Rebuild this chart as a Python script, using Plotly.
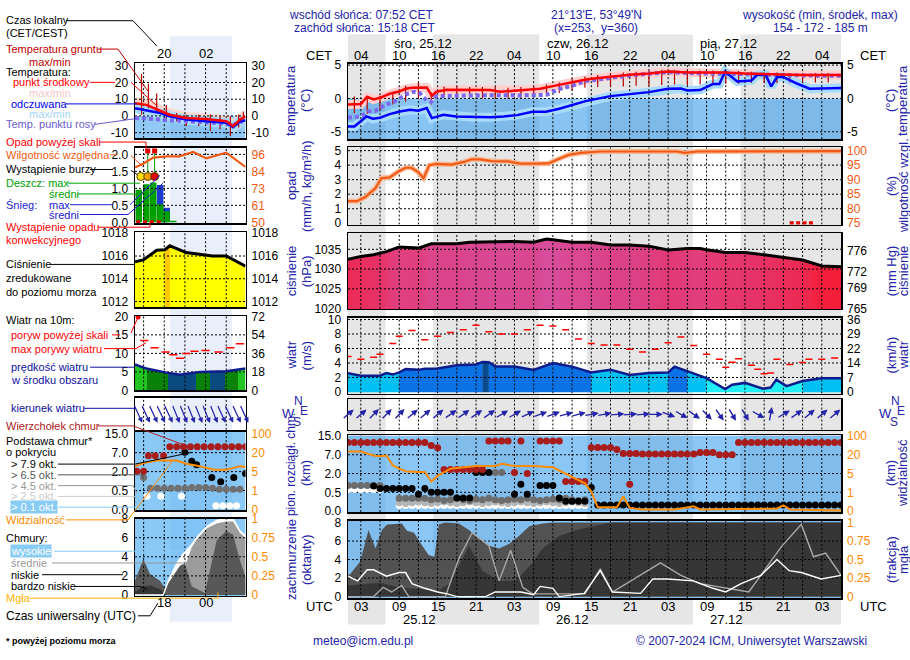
import numpy as np
import plotly.graph_objects as go

W, H = 910, 660
FONT = "Liberation Sans, Arial, Helvetica, sans-serif"
NAVY = "#2424a8"
ORANGE = "#ff8a00"
RH_COL = "#f05a14"

# ================= MAIN METEOGRAM DATA (t = hours since 25.12 00 UTC) =================
t_start, t_end = 1, 78
sunrise_t = [6.87, 30.87, 54.87]
sunset_t = [14.3, 38.3, 62.3]
hour_ticks = [3, 9, 15, 21, 27, 33, 39, 45, 51, 57, 63, 69, 75]
cet_labels = ["04", "10", "16", "22", "04", "10", "16", "22", "04", "10", "16", "22", "04"]
utc_labels = ["03", "09", "15", "21", "03", "09", "15", "21", "03", "09", "15", "21", "03"]
day_names = ["śro, 25.12", "czw, 26.12", "pią, 27.12"]
day_name_t = [7.8, 31.7, 55.7]
date_labels = ["25.12", "26.12", "27.12"]
date_t = [12.1, 36.1, 60.1]

# temperature (deg C)
temp_t = [1, 3, 4, 5, 6, 7.5, 9, 10, 11, 12, 13.3, 14.1, 14.8, 16.4, 18, 20.6, 23.2, 24.8, 27.4, 29,
          31, 33, 35.3, 37.4, 39, 42, 45, 48, 51, 54, 57, 60, 63, 66, 69, 72, 75, 78]
temp_mid = [-0.9, -0.85, 0.25, -0.15, 0.1, 0.7, 1.05, 1.45, 1.6, 1.65, 1.65, 0.4, 1.0, 1.3, 1.3, 1.2, 1.25, 1.0, 1.2, 1.3,
            1.45, 1.85, 2.35, 2.7, 2.95, 3.3, 3.55, 3.75, 4.05, 3.9, 3.9, 3.9, 3.75, 3.65, 3.55, 3.5, 3.5, 3.5]
feel_t = [1, 2, 3.9, 4.9, 6, 7.5, 9.1, 10.7, 12, 13.3, 14.1, 15.9, 17.9, 20.6, 23.2, 25.3, 27.4, 29.8, 31.9, 34,
          36, 38.1, 42, 45, 48, 51, 53, 54, 56, 58, 59, 59.9, 61.8, 64, 64.9, 66.2, 67.1, 68, 69, 71.2, 73.1, 78]
feel = [-4.2, -4.2, -2.7, -3.05, -2.9, -2.35, -1.95, -1.7, -1.85, -1.45, -2.95, -2.45, -2.7, -2.8, -2.8, -2.7, -2.5, -2.0, -2.0, -1.55,
        -1.0, -0.4, 0.35, 0.6, 0.95, 1.45, 1.5, 1.2, 1.25, 2.15, 2.15, 4.0, 2.55, 2.7, 3.5, 3.6, 1.8, 3.2, 3.2, 2.2, 1.45, 1.55]
dew_t = [1, 2, 3.2, 4.2, 5.2, 6, 7, 8.1, 9.1, 10.2, 11.2, 12.2, 13.3, 14, 14.8, 16.4, 20, 24, 28, 31,
         32, 34, 36, 38, 42, 45, 48, 51, 54, 57, 60, 63, 66, 69, 72, 75, 78]
dew = [-2.85, -2.85, -2.6, -1.95, -1.9, -1.4, -0.9, -0.55, 0.0, 0.65, 1.0, 0.8, -0.3, -0.5, 0.35, 0.4, 0.45, 0.5, 0.45, 0.5,
       0.55, 1.4, 1.9, 2.6, 3.15, 3.45, 3.7, 3.95, 3.8, 3.8, 3.8, 3.65, 3.55, 3.45, 3.4, 3.4, 3.4]
gt_t = [2, 4, 6, 8, 10, 12, 14, 16, 18, 20, 22, 24, 26, 28, 30, 32, 34, 36, 38, 40,
        42, 44, 46, 48, 50, 52, 54, 56, 58, 60, 62, 64, 66, 68, 70, 72, 74, 76]
g_max = [0.3, 0.2, 0.4, 1.0, 1.9, 2.4, 0.9, 1.8, 1.8, 1.7, 1.7, 1.7, 1.6, 1.7, 1.8, 2.1, 2.4, 2.9, 3.3, 3.5,
         3.7, 3.9, 4.0, 4.1, 4.3, 4.3, 4.2, 4.2, 4.2, 4.2, 4.1, 4.0, 3.9, 3.9, 3.8, 3.8, 3.8, 3.8]
g_min = [-2.2, -2.3, -1.7, -0.9, -0.5, 0.0, -0.9, 0.2, 0.1, 0.1, 0.0, 0.1, 0.0, 0.1, 0.2, 0.5, 0.8, 1.2, 1.6, 1.7,
         1.8, 1.8, 1.9, 1.9, 2.0, 2.1, 2.0, 2.1, 2.1, 2.2, 2.2, 2.3, 2.3, 2.3, 2.4, 2.4, 2.4, 2.4]

# precipitation / relative humidity
rh_t = [1, 2.4, 3.7, 5.3, 6.2, 7.5, 9, 10, 10.9, 11.9, 12.8, 13.7, 14.7, 17.2, 19.1, 20.3, 21.6, 23.5, 26, 27.9,
        30.4, 32.3, 33.8, 35.4, 37.3, 40.4, 46.7, 52.4, 53.6, 55.5, 78]
rh = [82.6, 82.6, 84.0, 87.1, 90.5, 90.8, 93.0, 94.1, 94.1, 92.7, 90.5, 95.0, 95.4, 95.2, 96.1, 97.0, 97.0, 96.4, 96.3, 95.5,
      95.5, 95.6, 97.0, 98.5, 99.2, 99.7, 99.7, 99.7, 99.2, 99.7, 99.8]
prec_flag_t = [70.3, 71.3, 72.3, 73.3]
prec_flag_v = [0.0, 0.0, 0.0, 0.0]

# pressure (hPa)
pres_t = [1, 3, 5, 7, 9, 12, 14, 18, 20, 24, 27, 30, 32, 33, 36, 39, 42, 45, 48, 51,
          54, 56, 57, 60, 63, 66, 69, 72, 75, 78]
pres = [1032.5, 1033.2, 1033.6, 1034.4, 1035.6, 1035.3, 1036.4, 1036.4, 1036.8, 1037.0, 1037.0, 1036.8, 1037.6, 1037.4, 1036.8,
        1036.8, 1036.1, 1036.1, 1035.8, 1034.8, 1035.2, 1035.2, 1034.9, 1034.2, 1034.2, 1033.6, 1033.0, 1032.3, 1030.8, 1030.6]

# wind (m/s)
wind_t = [1, 3, 6, 7, 8, 9, 10, 12, 13, 15, 18, 21, 22, 23, 24, 27, 30, 33, 36, 39, 42,
          45, 48, 51, 52, 54, 56, 57, 59.9, 61, 63, 65.8, 67, 67.9, 69.5, 72, 75, 78]
wind = [2.6, 2.25, 2.25, 2.6, 2.4, 2.7, 3.15, 3.05, 3.2, 3.25, 3.7, 3.8, 4.15, 4.1, 3.5, 3.5, 3.05, 4.0, 3.5, 2.7, 3.05,
        2.35, 2.6, 2.7, 3.5, 2.9, 2.25, 1.9, 0.4, 1.0, 1.25, 0.45, 0.6, 1.7, 0.8, 1.5, 1.9, 1.9]
gust_t = [1, 3, 5, 6, 8, 9, 11, 13, 15, 17, 19, 21, 23, 25, 27, 29, 31, 33, 35, 37,
          39, 41, 43, 45, 47, 49, 51, 53, 55, 57, 59, 60, 61, 62, 64, 65, 66, 67, 68, 70, 72, 73, 75, 77]
gust = [4.9, 4.5, 4.8, 5.2, 6.7, 7.7, 8.5, 7.2, 7.7, 8.2, 8.6, 9.2, 8.3, 8.0, 8.0, 8.6, 9.2, 9.1, 8.6, 7.3,
        6.7, 6.5, 6.5, 5.9, 5.5, 5.9, 6.8, 7.6, 6.4, 5.2, 4.5, 3.4, 4.1, 4.6, 3.7, 3.15, 2.5, 2.6, 4.5, 3.8,
        4.05, 4.5, 4.5, 4.7]
dir_t = [1, 3, 5, 7, 9, 11, 13, 15, 17, 19, 21, 23, 25, 27, 29, 31, 33, 35, 37, 39,
         41, 43, 45, 47, 49, 51, 53, 55, 57, 59, 61, 63, 65, 67, 69, 71, 73, 75, 77]
dir_from = [230, 230, 225, 225, 225, 230, 230, 230, 235, 235, 235, 235, 240, 240, 245, 250, 250, 255, 255, 260,
            260, 265, 265, 265, 270, 290, 300, 305, 315, 325, 330, 330, 300, 190, 240, 235, 230, 230, 230]

# clouds: base / top (km a.s.l.), visibility (km), cover (oktas), fog (fraction)
cb_scale_km = [0, 0.5, 2, 7, 15]
vis_scale_km = [0, 1, 5, 20, 100]
ct_t = [1, 2, 3, 4, 5, 6, 7, 8, 9, 10, 11, 12, 13, 14, 15, 16, 17, 18, 19, 20, 21, 22, 23, 24, 25, 26, 27, 28, 29,
        31, 32, 33, 34, 35, 36, 37, 38, 39, 40, 41, 42, 43, 44, 45, 46, 47, 48, 49, 50, 51, 52, 53, 54, 55,
        56, 57, 58, 59, 60, 61, 62, 63, 64, 65, 66, 67, 68, 69, 70, 71, 72, 73, 74, 75, 76, 77, 78, 45]
ct_km = [12.2, 12.2, 12.2, 12.2, 12.2, 12.2, 12.2, 12.2, 12.2, 12.2, 12.2, 12.2, 12.2, 11.0, 10.0,
         3.05, 3.05, 3.05, 3.05, 3.05, 3.05, 3.05, 12.9, 12.9, 12.9, 12.9, 2.25, 12.9, 2.0,
         12.9, 12.9, 12.9, 12.9, 1.36, 1.36, 1.36, 1.36, 10.1, 10.1, 10.1, 10.1, 9.2, 7.5, 7.5, 7.5,
         7.3, 7.3, 7.3, 7.3, 7.3, 7.3, 7.3, 7.3, 7.3, 8.0, 8.0, 8.0, 7.0, 7.0, 7.0,
         12.2, 12.2, 12.2, 12.2, 12.2, 12.2, 12.2, 12.2, 12.2, 12.2, 12.2, 12.2, 12.2, 12.2, 12.2, 12.2, 12.2, 1.15]
cbk_t = [5, 6, 7, 8, 9, 10, 11, 12, 13, 14, 15, 16, 17, 18, 19, 20, 21, 22, 23, 27, 28, 29,
         31, 32, 33, 34, 35, 36, 37, 38, 39, 40, 41, 42, 43, 44, 45, 46, 47, 48, 49, 50, 51, 52, 53, 54,
         55, 56, 57, 58, 59, 60, 61, 62, 63, 64, 65, 66, 67, 68, 69, 70, 71, 72, 73, 74, 75, 76, 77, 78]
cbk_km = [1.0, 0.8, 0.8, 0.8, 0.8, 0.8, 0.8, 0.45, 0.8, 0.5, 0.5, 0.5, 0.5, 0.35, 0.35, 0.35, 2.25, 2.25, 2.25,
          0.45, 1.15, 0.45, 1.04, 1.04, 1.04, 0.35, 0.26, 0.26, 0.26, 0.26, 0.88,
          0.16, 0.16, 0.16, 0.16, 0.16, 0.16, 0.16, 0.16, 0.16, 0.16, 0.16, 0.16, 0.16, 0.16, 0.16, 0.16,
          0.16, 0.16, 0.16, 0.16, 0.16, 0.16, 0.16, 0.16, 0.16, 0.16, 0.16, 0.16, 0.16, 0.16, 0.16, 0.16,
          0.16, 0.16, 0.16, 0.16, 0.16, 0.16, 0.16]
cbg_t = [1, 2, 3, 4, 5, 6, 9, 10, 11, 12, 13, 14, 15, 16, 17, 18, 19, 20, 21, 22, 23, 24, 25, 26, 27, 28, 29,
         30, 31, 32, 33, 34, 35, 36, 37, 38, 24, 25]
cbg_km = [1.05, 1.05, 1.05, 1.05, 1.05, 1.05, 0.34, 0.34, 0.34, 0.34, 0.34,
          0.3, 0.32, 0.28, 0.3, 0.34, 0.3, 0.28, 0.32, 0.3, 0.34, 0.3, 0.28, 0.3, 0.32, 0.3, 0.34, 0.3, 0.28, 0.3,
          0.32, 0.3, 0.34, 0.3, 0.28, 0.3, 2.25, 2.25]
cbl_t = [9, 10, 11, 12, 13, 14, 15, 16, 17, 18, 19, 20, 21, 22, 23, 24, 25, 26, 27, 28, 29, 30, 31, 32, 33,
         34, 35, 36, 37, 38]
cbl_km = [0.22, 0.2, 0.22, 0.24, 0.22, 0.2, 0.22, 0.24, 0.22, 0.2, 0.22, 0.24, 0.22, 0.2, 0.22,
          0.24, 0.22, 0.2, 0.22, 0.24, 0.22, 0.2, 0.22, 0.24, 0.22, 0.2, 0.22, 0.24, 0.22, 0.2]
cbw_t = [1, 2, 3, 4, 5, 6, 9, 10, 11, 12, 13, 14, 15, 16, 17, 18, 19, 20, 21, 22, 23, 24, 25, 26, 27, 28,
         29, 30, 31, 32, 33, 34, 35, 36, 37, 38]
cbw_km = [0.72, 0.72, 0.72, 0.72, 0.72, 0.72, 0.15, 0.15, 0.15, 0.15, 0.15, 0.15, 0.15, 0.15, 0.15, 0.15,
          0.15, 0.15, 0.15, 0.15, 0.15, 0.15, 0.15, 0.15, 0.15, 0.15, 0.15, 0.15, 0.15, 0.15, 0.15, 0.15,
          0.15, 0.15, 0.15, 0.15]
vis_t = [1, 3, 5, 6, 7, 8, 9, 10, 12, 13, 14, 15, 17, 19, 21, 24, 25, 27, 30, 33,
         35, 36, 38, 39, 40, 43, 44, 45, 47, 52, 55, 56, 60, 63, 68, 69, 70, 78]
vis_km = [33.6, 33.6, 19.4, 18.8, 19.4, 11.5, 8.9, 6.8, 6.3, 6.3, 3.3, 4.5, 8.9, 10.0, 11.0, 11.0, 12.8, 11.0, 11.0, 10.0,
          5.0, 4.3, 2.9, 1.17, 0.2, 0.2, 0.78, 0.17, 0.09, 0.09, 0.26, 0.09, 0.12, 0.14, 0.14, 0.31, 0.09, 0.03]
lc_t = [1, 1.3, 2.9, 4.2, 5.3, 6.3, 7.1, 9.4, 10.2, 11.3, 12.6, 13.6, 14.5, 15.2, 16.2, 18.3, 19.9, 21.5, 23.1, 24.6,
        26.2, 27.7, 29.3, 31.4, 33, 78]
lc = [2.4, 2.4, 3.8, 7.2, 5.2, 7.2, 7.8, 7.9, 7.1, 6.9, 5.5, 4.5, 4.3, 7.8, 8.0, 7.9, 7.2, 6.2, 5.5, 5.2,
      5.7, 6.55, 7.6, 7.9, 8.0, 8.0]
vl_t = [1, 6, 9, 12, 15, 17, 19.9, 22, 24.6, 27.2, 29.5, 31.4, 34, 36.6, 39.3, 42, 78]
vl = [1.2, 1.5, 1.0, 0.8, 0.6, 1.5, 5.5, 2.8, 1.7, 1.7, 3.4, 5.2, 6.55, 7.2, 7.6, 8.0, 8.0]
hc_t = [1, 2.5, 4, 5, 7, 9, 10, 11, 13, 15, 16.5, 18, 22.5, 24, 26, 28, 30, 31, 33, 34,
        37.9, 40.4, 42.3, 46.7, 48.6, 51, 54.9, 58, 60, 62.4, 65.5, 68, 69.9, 71.8, 74.9, 78]
hc = [2.2, 1.7, 2.9, 2.9, 2.2, 2.6, 2.6, 1.4, 0.9, 0.5, 0.3, 0.0, 0.0, 0.5, 0.5, 0.5, 0.2, 1.1, 0.9, 0.0,
      0.35, 2.8, 0.5, 0.35, 1.9, 1.9, 1.7, 0.9, 0.5, 1.4, 2.3, 4.0, 2.8, 2.6, 1.9, 2.3]
mc_t = [1, 5, 6.5, 7.8, 9.4, 10.5, 16.2, 18.3, 20.4, 23, 24.6, 26.4, 28.3, 29.8, 38, 40.4, 42.3, 49.8, 53, 56,
        63.6, 68.7, 71.8, 73.7, 75.6, 78]
mc = [0.0, 0.0, 1.0, 0.5, 1.2, 0.0, 0.0, 4.1, 6.9, 5.5, 1.7, 5.0, 1.0, 0.3, 0.3, 3.0, 0.5, 3.65, 2.3, 1.4,
      0.5, 5.4, 7.8, 4.3, 4.7, 2.3]
fog_t = [10, 11, 12, 13, 14, 15, 16, 17, 18, 19, 20, 21, 22, 23, 24, 25, 26, 27, 28, 29,
         30, 31, 32, 33, 34, 35, 36, 37, 38, 39, 40, 41, 42, 43, 44, 45, 46, 47, 48, 49,
         50, 51, 52, 53, 54, 55, 56, 57, 58, 59, 60, 61, 62, 63, 64, 65, 66, 67, 68, 69,
         70, 71, 72, 73, 74, 75, 76, 77, 78]
fog = [0.18, 0.15, 0.04, 0.12, 0.53, 0.42, 0.32, 0.15, 0.14, 0.11, 0.17, 0.26, 0.28, 0.22, 0.18, 0.22, 0.19, 0.15, 0.12, 0.06,
       0.02, 0.08, 0.06, 0.09, 0.13, 0.38, 0.45, 0.53, 0.65, 0.67, 0.7, 0.75, 0.74, 0.7, 0.74, 0.77, 0.8, 0.87, 0.87, 0.9,
       0.89, 0.89, 0.8, 0.73, 0.85, 0.87, 0.94, 0.87, 0.8, 0.77, 0.77, 0.8, 0.83, 0.9, 0.91, 0.94, 0.93, 0.94, 0.87, 0.9,
       0.78, 0.85, 0.94, 0.93, 0.94, 0.94, 0.96, 0.94, 0.94]

# ================= LEGEND MINI-METEOGRAM DATA (t = hours UTC, 24 = 00 UTC) =================
mini_range = [13.75, 29.8]
mini_grid_t = [15, 18, 21, 24, 27]
mini_lab_t = [18, 24, 30]
mini_cet = ["20", "02", "08"]
mini_utc = ["18", "00", "06"]
mini_temp_t = [13.75, 15.4, 17.4, 18.8, 21.2, 24.1, 27.0, 28.0, 29.0, 29.8]
mini_temp = [7.6, 6.6, 3.1, 0.7, -1.2, -1.8, -3.2, -6.1, -2.2, -0.2]
mini_feel = [4.6, 3.1, 1.7, -0.2, -2.2, -3.2, -4.1, -6.7, -3.2, -2.8]
mini_dew = [-1.2, -1.6, -2.2, -2.8, -3.2, -4.1, -4.7, -5.5, -3.6, -2.8]
mini_g_t = [14.7, 15.7, 16.9, 18.3, 19.8, 21.2, 23.0, 24.7, 26.1, 27.6, 28.8, 29.5]
mini_gmax = [25.1, 19.3, 13.4, 6.6, 1.7, 0.7, 0.7, 0.7, -0.2, -0.2, 0.7, 2.7]
mini_gmin = [0.7, 4.6, 2.7, -1.2, -3.2, -6.1, -6.1, -9.0, -8.0, -12.0, -7.0, -2.2]
mini_prec_t = [14.3, 15.4, 16.4, 17.4, 18.35, 19.3]
mini_rain = [0.96, 1.12, 1.17, 0.53, 0.33, 0.05]
mini_snow = [0.0, 0.0, 0.0, 1.1, 0.43, 0.0]
mini_storm_t = [14.6, 15.6, 16.6]
mini_storm_v = [1.35, 1.35, 1.35]
mini_over_t = [15.6, 16.6]
mini_over_v = [2.1, 2.1]
mini_conv_t = [14.2, 15.2, 16.2, 17.2]
mini_conv_v = [0.0, 0.0, 0.0, 0.0]
mini_rh_t = [13.75, 15.0, 16.4, 18.3, 20.2, 22.2, 24.1, 27.0, 29.8]
mini_rh = [87.2, 89.8, 93.8, 94.7, 94.7, 97.6, 93.3, 97.2, 87.5]
mini_pres_t = [13.75, 14.96, 16.9, 18.1, 18.8, 21.2, 25.0, 27.0, 29.8]
mini_pres = [1015.5, 1015.66, 1016.5, 1016.55, 1016.9, 1016.3, 1016.0, 1016.0, 1015.1]
mini_wind_t = [13.75, 15.4, 18.3, 20.3, 23.2, 27.0, 29.8]
mini_wind = [7.0, 5.9, 4.8, 4.2, 5.0, 5.2, 5.9]
mini_strip_t = [13.75, 15.44, 18.58, 22.68, 24.61, 26.8, 28.7, 29.8]
mini_strip_c = ["#22c422", "#0a820a", "#0a4a7e", "#0a820a", "#0a4a7e", "#0a820a", "#22c422"]
mini_gust_t = [15.1, 16.6, 18.2, 19.3, 20.3, 21.2, 22.4, 24.0, 25.9, 27.6, 29.0]
mini_gust = [13.5, 11.5, 10.4, 9.6, 8.7, 10.0, 10.6, 10.8, 10.4, 11.5, 12.6]
mini_gust_over_t = [14.2]
mini_gust_over_v = [19.8]
mini_dir_t = [14.2, 15.3, 16.4, 17.5, 18.6, 19.7, 20.8, 21.9, 23.0, 24.1, 25.2, 26.3, 27.4, 28.5, 29.6]
mini_dir_from = [335, 335, 335, 335, 335, 338, 338, 338, 338, 338, 338, 335, 335, 335, 335]
mini_top_t = [14.0, 15.0, 15.7, 16.7, 17.9, 18.8, 19.8, 20.8, 21.8, 22.8, 23.8, 24.8, 25.8, 26.8, 27.8, 28.8, 29.8]
mini_top = [2.1, 2.1, 6.2, 6.2, 6.2, 9.5, 9.5, 9.5, 9.5, 9.5, 9.5, 9.5, 9.5, 9.5, 9.5, 9.5, 9.5]
mini_b_t = [21.0, 22.0, 22.7, 24.9, 26.2, 28.1, 29.8]
mini_b = [7.2, 4.75, 3.8, 1.54, 1.2, 1.54, 1.85]
mini_g2_t = [15.0, 16.0, 17.0, 18.0, 19.0, 20.0, 21.0, 22.0, 23.0, 24.0, 25.0, 26.0, 27.0, 28.0, 29.0]
mini_g2 = [1.54, 0.68, 0.68, 0.68, 0.68, 0.68, 0.68, 0.75, 0.75, 0.75, 0.68, 0.6, 0.6, 0.6, 0.6]
mini_w_t = [15.5, 17.5, 20.5, 25.5, 26.5, 27.5, 28.5]
mini_w = [0.35, 0.35, 0.35, 0.1, 0.1, 0.1, 0.1]
mini_vis_t = [13.75, 14.96, 16.9, 19.8, 21.2, 23.2, 25.2, 27.0, 29.0, 29.8]
mini_vis = [9.2, 11.7, 13.8, 13.8, 11.2, 9.2, 6.5, 6.5, 9.2, 8.6]
mini_hc_t = [13.75, 17.85, 18.6, 19.8, 20.75, 22.0, 22.7, 24.2, 25.6, 27.0, 28.0, 29.0, 29.8]
mini_hc = [0.0, 0.0, 1.5, 3.3, 4.3, 5.3, 6.0, 7.2, 7.8, 8.0, 8.0, 6.7, 6.2]
mini_mc_t = [13.75, 19.5, 20.3, 21.0, 22.0, 22.7, 24.2, 25.6, 27.0, 28.0, 29.0, 29.8]
mini_mc = [0.0, 0.0, 1.0, 3.0, 5.0, 5.8, 7.0, 7.5, 7.7, 7.7, 6.5, 6.0]
mini_lc_t = [13.75, 14.96, 15.93, 17.38, 18.1, 20.3, 21.0, 22.0, 23.9, 25.6, 27.0, 28.0, 29.0, 29.8]
mini_lc = [1.5, 3.8, 2.2, 1.5, 0.7, 3.1, 3.3, 0.9, 0.2, 5.7, 6.7, 6.3, 3.6, 1.9]
mini_vl_t = [13.75, 14.8, 16.0, 17.4, 18.3, 29.8]
mini_vl = [0.3, 0.9, 1.0, 0.6, 0.0, 0.0]
mini_fog_t = [25.8, 26.8, 27.7, 28.9]
mini_fog = [0.13, 0.13, 0.13, 0.13]

# ================= FIGURE =================
fig = go.Figure()
lay = dict(width=W, height=H, margin=dict(l=0, r=0, t=0, b=0), paper_bgcolor="white",
           plot_bgcolor="rgba(0,0,0,0)", showlegend=False, hovermode=False, barmode="overlay",
           font=dict(family=FONT, size=12, color="black"))
shapes, annos = [], []


def xname(n):
    return "x" if n == 1 else f"x{n}"


def yname(n):
    return "y" if n == 1 else f"y{n}"


def xkey(n):
    return "xaxis" if n == 1 else f"xaxis{n}"


def ykey(n):
    return "yaxis" if n == 1 else f"yaxis{n}"


def add_panel(n, x0, x1, y0, y1, xr, yr, vals=None, texts=None, color="black"):
    lay[xkey(n)] = dict(domain=[x0 / W, x1 / W], range=xr, anchor=yname(n), showgrid=False, zeroline=False,
                        showticklabels=False, ticks="", showline=True, mirror=True, linecolor="black",
                        linewidth=1.5, fixedrange=True)
    d = dict(domain=[1 - y1 / H, 1 - y0 / H], range=yr, anchor=xname(n), showgrid=False, zeroline=False,
             ticks="", showline=True, mirror=True, linecolor="black", linewidth=1.5, fixedrange=True,
             tickfont=dict(size=12, color=color, family=FONT), ticklabelstandoff=3)
    if vals is None:
        d["showticklabels"] = False
    else:
        d["tickvals"] = vals
        d["ticktext"] = texts if texts is not None else [f"{v:g}" for v in vals]
    lay[ykey(n)] = d


def add_right(n, over, xr_name, yr, vals, texts=None, color="black"):
    lay[ykey(n)] = dict(overlaying=yname(over), side="right", anchor=xr_name, range=yr, tickvals=vals,
                        ticktext=texts if texts is not None else [f"{v:g}" for v in vals],
                        showgrid=False, zeroline=False, showline=False, ticks="", fixedrange=True,
                        tickfont=dict(size=12, color=color, family=FONT), ticklabelstandoff=5)


def sc(xn, yn, **kw):
    fig.add_trace(go.Scatter(xaxis=xname(xn), yaxis=yname(yn), hoverinfo="skip", **kw))


def ghost(xn, yn, x, y):
    sc(xn, yn, x=x, y=y, mode="lines", line=dict(width=0), opacity=0)


def grid(xn, yn, xs, ys, xr, yr):
    gx, gy = [], []
    for v in xs:
        gx += [v, v, None]
        gy += [yr[0], yr[1], None]
    for v in ys:
        gx += [xr[0], xr[1], None]
        gy += [v, v, None]
    sc(xn, yn, x=gx, y=gy, mode="lines", line=dict(color="black", width=1, dash="2px,2px"))


def rect(xref, yref, x0, x1, y0, y1, color):
    shapes.append(dict(type="rect", xref=xref, yref=yref, x0=x0, x1=x1, y0=y0, y1=y1,
                       fillcolor=color, line=dict(width=0), layer="below"))


def arrows(xref, yref, ts, froms, L=15, color=NAVY, width=1.4):
    for t, d in zip(ts, froms):
        b = np.radians((d + 180) % 360)
        sx, sy = float(np.sin(b)), float(np.cos(b))
        annos.append(dict(x=t, y=0, xref=xref, yref=yref, text="", showarrow=True, arrowhead=2,
                          arrowsize=0.9, arrowwidth=width, arrowcolor=color,
                          ax=-L * sx, ay=L * sy, xshift=L / 2 * sx, yshift=L / 2 * sy))


def txt(text, x, y, color="black", size=12, anchor="left", bg=None, angle=0, yanchor="middle"):
    a = dict(text=text, x=x / W, y=1 - y / H, xref="paper", yref="paper", showarrow=False,
             xanchor=anchor, yanchor=yanchor, textangle=angle, borderpad=0,
             font=dict(family=FONT, size=size, color=color))
    if bg:
        a["bgcolor"] = bg
    annos.append(a)


def leader(pts, color, width=1):
    s = "M " + " L ".join(f"{x / W:.5f},{1 - y / H:.5f}" for x, y in pts)
    shapes.append(dict(type="path", path=s, xref="paper", yref="paper",
                       line=dict(color=color, width=width), layer="above"))


def cb_idx(v):
    return np.interp(v, cb_scale_km, [0, 1, 2, 3, 4])


def vis_idx(v):
    return np.interp(v, vis_scale_km, [0, 1, 2, 3, 4])


# ---------------- axes ----------------
MX0, MX1 = 348, 841
XR = [t_start, t_end]
TR, PR, SR, WR, DR, CR, NR = [-6.1, 5.2], [-0.09, 5.23], [1019.9, 1039.1], [-0.23, 10.27], [-1, 1], [-0.05, 4.03], [-0.17, 8.18]
cb_text = [f"{v:.1f}" for v in cb_scale_km]
add_panel(1, MX0, MX1, 58, 135, XR, TR, [-5, 0, 5])
add_panel(2, MX0, MX1, 143.3, 222.3, XR, PR, [0, 1, 2, 3, 4, 5])
add_panel(3, MX0, MX1, 231, 308.5, XR, SR, [1020, 1025, 1030, 1035])
add_panel(4, MX0, MX1, 317.3, 395, XR, WR, [0, 2, 4, 6, 8, 10])
add_panel(5, MX0, MX1, 400.7, 431.7, XR, DR)
add_panel(6, MX0, MX1, 437.7, 516, XR, CR, [0, 1, 2, 3, 4], cb_text)
add_panel(7, MX0, MX1, 525, 604, XR, NR, [0, 2, 4, 6, 8])
add_right(8, 1, "x", TR, [-5, 0, 5])
add_right(9, 2, "x2", [75 + 5 * PR[0], 75 + 5 * PR[1]], [75, 80, 85, 90, 95, 100], color=RH_COL)
add_right(10, 3, "x3", [SR[0] / 1.33322, SR[1] / 1.33322], [765, 769, 772, 776])
add_right(11, 4, "x4", [WR[0] * 3.6, WR[1] * 3.6], [0, 7.2, 14.4, 21.6, 28.8, 36], ["0", "7", "14", "22", "29", "36"])
add_right(12, 6, "x6", CR, [0, 1, 2, 3, 4], [f"{v:g}" for v in vis_scale_km], ORANGE)
add_right(13, 7, "x7", [NR[0] / 8, NR[1] / 8], [0, 0.25, 0.5, 0.75, 1], color=ORANGE)

SX0, SX1 = 135, 245.5
MR = mini_range
mTR, mPR, mSR, mWR, mCR, mNR = [-13.3, 31.6], [-0.02, 2.19], [1011.5, 1018.1], [0, 20.1], [-0.03, 4.1], [-0.1, 8.0]
add_panel(14, SX0, SX1, 57.3, 134, MR, mTR, [-10, 0, 10, 20, 30])
add_panel(15, SX0, SX1, 144, 220.7, MR, mPR, [0, 0.5, 1, 1.5, 2], ["0.0", "0.5", "1.0", "1.5", "2.0"])
add_panel(16, SX0, SX1, 230, 306.7, MR, mSR, [1012, 1014, 1016, 1018])
add_panel(17, SX0, SX1, 315.7, 391.7, MR, mWR, [0, 5, 10, 15, 20])
add_panel(18, SX0, SX1, 399, 432, MR, DR)
add_panel(19, SX0, SX1, 434, 514, MR, mCR, [0, 1, 2, 3, 4], cb_text)
add_panel(20, SX0, SX1, 522.7, 601.7, MR, mNR, [0, 2, 4, 6, 8])
add_right(21, 14, "x14", mTR, [-10, 0, 10, 20, 30])
add_right(22, 15, "x15", [50 + 23 * mPR[0], 50 + 23 * mPR[1]], [50, 61.5, 73, 84.5, 96], ["50", "61", "73", "84", "96"], RH_COL)
add_right(23, 16, "x16", mSR, [1012, 1014, 1016, 1018])
add_right(24, 17, "x17", [0, mWR[1] * 3.6], [0, 18, 36, 54, 72])
add_right(25, 19, "x19", mCR, [0, 1, 2, 3, 4], [f"{v:g}" for v in vis_scale_km], ORANGE)
add_right(26, 20, "x20", [mNR[0] / 8, mNR[1] / 8], [0, 0.25, 0.5, 0.75, 1], color=ORANGE)

# ---------------- backgrounds ----------------
nights = [(t_start, sunrise_t[0]), (sunset_t[0], sunrise_t[1]), (sunset_t[1], sunrise_t[2]), (sunset_t[2], t_end)]
for a, b in nights:
    rect("x", "paper", a, b, 1 - 631 / H, 1 - 28 / H, "#e6e6e6")
rect("paper", "paper", 170 / W, 232 / W, 1 - 628 / H, 1 - 30 / H, "#e8effa")
rect("x", "y", t_start, t_end, TR[0], 0, "rgba(40,150,235,0.55)")
rect("x6", "y6", t_start, t_end, CR[0], CR[1], "rgba(60,160,240,0.6)")
rect("x7", "y7", t_start, t_end, NR[0], NR[1], "rgba(60,160,240,0.6)")
rect("x14", "y14", MR[0], MR[1], mTR[0], 0, "rgba(40,150,235,0.5)")
rect("x19", "y19", MR[0], MR[1], mCR[0], mCR[1], "rgba(60,165,240,0.6)")
rect("x20", "y20", MR[0], MR[1], mNR[0], mNR[1], "rgba(60,165,240,0.6)")

vgrid = list(range(3, 78, 3))

# ---------------- main: temperature ----------------
sc(1, 1, x=temp_t, y=temp_mid, mode="lines", line=dict(color="#ffd0d0", width=9))
sc(1, 1, x=feel_t, y=feel, mode="lines", line=dict(color="#a8dcfa", width=9))
grid(1, 1, vgrid, [-5, 0, 5], XR, TR)
bx, by = [], []
for t, a, b in zip(gt_t, g_min, g_max):
    bx += [t, t, None]
    by += [a, b, None]
sc(1, 1, x=bx, y=by, mode="lines", line=dict(color="#b40000", width=1.2))
sc(1, 1, x=dew_t, y=dew, mode="lines", line=dict(color="#7a68ee", width=4, dash="4px,3px"))
sc(1, 1, x=feel_t, y=feel, mode="lines", line=dict(color="#0000ff", width=2.5))
sc(1, 1, x=temp_t, y=temp_mid, mode="lines", line=dict(color="#ff0000", width=2.5))
ghost(1, 8, temp_t, temp_mid)

# ---------------- main: precipitation / humidity ----------------
grid(2, 2, vgrid, [1, 2, 3, 4, 5], XR, PR)
sc(2, 2, x=prec_flag_t, y=prec_flag_v, mode="markers", marker=dict(symbol="square", size=4, color="#e00000"))
sc(2, 9, x=rh_t, y=rh, mode="lines", line=dict(color="#f8b894", width=5))
sc(2, 9, x=rh_t, y=rh, mode="lines", line=dict(color=RH_COL, width=2.2))

# ---------------- main: pressure ----------------
def pres_color(p, alpha=0.93):
    f = float(np.clip((p - 1030.5) / (1037.6 - 1030.5), 0, 1))
    lo, hi = (246, 14, 44), (212, 64, 150)
    c = [round(lo[i] + (hi[i] - lo[i]) * f) for i in range(3)]
    return f"rgba({c[0]},{c[1]},{c[2]},{alpha})"


pres_scale = [[(t - t_start) / (t_end - t_start), pres_color(p)] for t, p in zip(pres_t, pres)]
sc(3, 3, x=pres_t, y=pres, mode="lines", line=dict(width=0), fill="tozeroy",
   fillgradient=dict(type="horizontal", colorscale=pres_scale, start=t_start, stop=t_end))
grid(3, 3, vgrid, [1025, 1030, 1035], XR, SR)
sc(3, 3, x=pres_t, y=pres, mode="lines", line=dict(color="black", width=3))
ghost(3, 10, pres_t, [p / 1.33322 for p in pres])

# ---------------- main: wind ----------------
def wind_col(v):
    if v >= 4.05:
        return "#0c4a8e"
    if v >= 2.9:
        return "#0a72e4"
    if v >= 1.5:
        return "#02c0f2"
    return "#20eef4"


seg_col = [wind_col((wind[i] + wind[i + 1]) / 2) for i in range(len(wind_t) - 1)]
s = 0
for i in range(1, len(seg_col) + 1):
    if i == len(seg_col) or seg_col[i] != seg_col[s]:
        xs = wind_t[s:i + 1]
        ys = wind[s:i + 1]
        sc(4, 4, x=xs + [xs[-1], xs[0]], y=ys + [0, 0], mode="lines", line=dict(width=0.6, color=seg_col[s]),
           fill="toself", fillcolor=seg_col[s])
        s = i
grid(4, 4, vgrid, [2, 4, 6, 8, 10], XR, WR)
gx, gy = [], []
for t, v in zip(gust_t, gust):
    gx += [t - 0.55, t + 0.55, None]
    gy += [v, v, None]
sc(4, 4, x=gx, y=gy, mode="lines", line=dict(color="#ff0000", width=1.5))
sc(4, 4, x=wind_t, y=wind, mode="lines", line=dict(color="#0c1c8c", width=2.5))
ghost(4, 11, wind_t, [v * 3.6 for v in wind])

# ---------------- main: wind direction ----------------
grid(5, 5, vgrid, [], XR, DR)
arrows("x5", "y5", dir_t, dir_from)

# ---------------- main: cloud base / visibility ----------------
grid(6, 6, vgrid, [1, 2, 3], XR, CR)
sc(6, 6, x=cbw_t, y=cb_idx(cbw_km), mode="markers", marker=dict(size=7, color="#ffffff"))
sc(6, 6, x=cbl_t, y=cb_idx(cbl_km), mode="markers", marker=dict(size=7, color="#b4b4b4"))
sc(6, 6, x=cbg_t, y=cb_idx(cbg_km), mode="markers", marker=dict(size=7, color="#6c6c6c"))
sc(6, 6, x=cbk_t, y=cb_idx(cbk_km), mode="markers", marker=dict(size=7, color="#000000"))
sc(6, 6, x=ct_t, y=cb_idx(ct_km), mode="markers", marker=dict(size=7, color="#a81c1c"))
sc(6, 6, x=vis_t, y=vis_idx(vis_km), mode="lines", line=dict(color="#ff8c00", width=2))
ghost(6, 12, vis_t, vis_idx(vis_km))

# ---------------- main: cloud cover / fog ----------------
sc(7, 7, x=lc_t, y=lc, mode="lines", line=dict(width=0), fill="tozeroy", fillcolor="#525252")
sc(7, 7, x=vl_t, y=vl, mode="lines", line=dict(width=0), fill="tozeroy", fillcolor="#363636")
fig.add_trace(go.Bar(x=fog_t, y=[f * 8 for f in fog], width=0.55, marker=dict(color="#ffb400", line=dict(width=0)),
                     xaxis="x7", yaxis="y7", hoverinfo="skip"))
grid(7, 7, vgrid, [2, 4, 6], XR, NR)
sc(7, 7, x=mc_t, y=mc, mode="lines", line=dict(color="#a8a8a8", width=1.4))
sc(7, 7, x=hc_t, y=hc, mode="lines", line=dict(color="#ffffff", width=1.4))
ghost(7, 13, fog_t, fog)

# ================= MINI PANELS =================
sc(14, 14, x=mini_temp_t, y=mini_temp, mode="lines", line=dict(color="#ffd8d0", width=12))
sc(14, 14, x=mini_temp_t, y=mini_feel, mode="lines", line=dict(color="#a8dcfa", width=10))
grid(14, 14, mini_grid_t, [-10, 0, 10, 20], MR, mTR)
bx, by = [], []
for t, a, b in zip(mini_g_t, mini_gmin, mini_gmax):
    bx += [t, t, None]
    by += [a, b, None]
sc(14, 14, x=bx, y=by, mode="lines", line=dict(color="#b40000", width=1.2))
sc(14, 14, x=mini_temp_t, y=mini_dew, mode="lines", line=dict(color="#7a68ee", width=4, dash="4px,3px"))
sc(14, 14, x=mini_temp_t, y=mini_feel, mode="lines", line=dict(color="#0000ff", width=2.5))
sc(14, 14, x=mini_temp_t, y=mini_temp, mode="lines", line=dict(color="#ff0000", width=2.5))
ghost(14, 21, mini_temp_t, mini_temp)

fig.add_trace(go.Bar(x=mini_prec_t, y=mini_snow, width=0.95, marker=dict(color="#1c3cd0", line=dict(width=0)),
                     xaxis="x15", yaxis="y15", hoverinfo="skip"))
fig.add_trace(go.Bar(x=mini_prec_t, y=mini_rain, width=0.95, marker=dict(color="#00a000", line=dict(width=0)),
                     xaxis="x15", yaxis="y15", hoverinfo="skip"))
grid(15, 15, mini_grid_t, [0.5, 1.0, 1.5, 2.0], MR, mPR)
lx, ly = [], []
for t, v in zip(mini_over_t, mini_over_v):
    lx += [t, t, None]
    ly += [mini_storm_v[0], v, None]
sc(15, 15, x=lx, y=ly, mode="lines", line=dict(color="#00a000", width=1))
sc(15, 15, x=mini_conv_t, y=mini_conv_v, mode="markers", marker=dict(symbol="square", size=4, color="#e00000"))
sc(15, 15, x=mini_over_t, y=mini_over_v, mode="markers", marker=dict(symbol="square", size=5, color="#e00000"))
sc(15, 15, x=mini_storm_t, y=mini_storm_v, mode="markers",
   marker=dict(size=8, color=["#ffe000", "#f0a000", "#e00000"], line=dict(color="#604000", width=1)))
sc(15, 22, x=mini_rh_t, y=mini_rh, mode="lines", line=dict(color=RH_COL, width=2.2))

pa = (18.1 - MR[0]) / (MR[1] - MR[0])
pb = (18.8 - MR[0]) / (MR[1] - MR[0])
sc(16, 16, x=mini_pres_t, y=mini_pres, mode="lines", line=dict(width=0), fill="tozeroy",
   fillgradient=dict(type="horizontal", start=MR[0], stop=MR[1],
                     colorscale=[[0, "#ffff00"], [pa, "#ffff00"], [pa, "#ffc800"], [pb, "#ffc800"],
                                 [pb, "#ffff00"], [1, "#ffff00"]]))
grid(16, 16, mini_grid_t, [1012, 1014, 1016], MR, mSR)
sc(16, 16, x=mini_pres_t, y=mini_pres, mode="lines", line=dict(color="black", width=3))
ghost(16, 23, mini_pres_t, mini_pres)

ms = []
for i, c in enumerate(mini_strip_c):
    ms += [[(mini_strip_t[i] - MR[0]) / (MR[1] - MR[0]), c], [(mini_strip_t[i + 1] - MR[0]) / (MR[1] - MR[0]), c]]
sc(17, 17, x=mini_wind_t, y=mini_wind, mode="lines", line=dict(width=0), fill="tozeroy",
   fillgradient=dict(type="horizontal", colorscale=ms, start=MR[0], stop=MR[1]))
grid(17, 17, mini_grid_t, [5, 10, 15], MR, mWR)
gx, gy = [], []
for t, v in zip(mini_gust_t, mini_gust):
    gx += [t - 0.6, t + 0.6, None]
    gy += [v, v, None]
sc(17, 17, x=gx, y=gy, mode="lines", line=dict(color="#ff0000", width=1.5))
sc(17, 17, x=mini_gust_over_t, y=mini_gust_over_v, mode="markers", marker=dict(size=5, color="#ff0000"))
sc(17, 17, x=mini_wind_t, y=mini_wind, mode="lines", line=dict(color="#0c1c8c", width=2.5))
ghost(17, 24, mini_wind_t, [v * 3.6 for v in mini_wind])

grid(18, 18, mini_grid_t, [], MR, DR)
arrows("x18", "y18", mini_dir_t, mini_dir_from, L=20, width=1.2)

grid(19, 19, mini_grid_t, [1, 2, 3], MR, mCR)
sc(19, 19, x=mini_w_t, y=cb_idx(mini_w), mode="markers", marker=dict(size=7, color="#ffffff"))
sc(19, 19, x=mini_g2_t, y=cb_idx(mini_g2), mode="markers", marker=dict(size=7, color="#707070"))
sc(19, 19, x=mini_b_t, y=cb_idx(mini_b), mode="markers", marker=dict(size=7, color="#000000"))
sc(19, 19, x=mini_top_t, y=cb_idx(mini_top), mode="markers", marker=dict(size=7, color="#a81c1c"))
sc(19, 19, x=mini_vis_t, y=vis_idx(mini_vis), mode="lines", line=dict(color="#ff8c00", width=2))
ghost(19, 25, mini_vis_t, vis_idx(mini_vis))

sc(20, 20, x=mini_hc_t, y=mini_hc, mode="lines", line=dict(width=0), fill="tozeroy", fillcolor="#ffffff")
sc(20, 20, x=mini_mc_t, y=mini_mc, mode="lines", line=dict(width=0), fill="tozeroy", fillcolor="#9c9c9c")
sc(20, 20, x=mini_lc_t, y=mini_lc, mode="lines", line=dict(width=0), fill="tozeroy", fillcolor="#585858")
sc(20, 20, x=mini_vl_t, y=mini_vl, mode="lines", line=dict(width=0), fill="tozeroy", fillcolor="#363636")
fig.add_trace(go.Bar(x=mini_fog_t, y=[f * 8 for f in mini_fog], width=0.5, marker=dict(color="#ffb400", line=dict(width=0)),
                     xaxis="x20", yaxis="y20", hoverinfo="skip"))
grid(20, 20, mini_grid_t, [2, 4, 6], MR, mNR)
sc(20, 20, x=mini_hc_t, y=mini_hc, mode="lines", line=dict(color="#ffffff", width=1.4))
ghost(20, 26, mini_fog_t, mini_fog)

# ================= TEXT: time labels =================
for t, c, u in zip(hour_ticks, cet_labels, utc_labels):
    annos.append(dict(x=t, y=1 - 50 / H, xref="x", yref="paper", text=c, showarrow=False,
                      font=dict(size=13, family=FONT), yanchor="middle"))
    annos.append(dict(x=t, y=1 - 612 / H, xref="x", yref="paper", text=u, showarrow=False,
                      font=dict(size=13, family=FONT), yanchor="middle"))
for t, d in zip(day_name_t, day_names):
    annos.append(dict(x=t, y=1 - 37 / H, xref="x", yref="paper", text=d, showarrow=False, xanchor="left",
                      font=dict(size=13, family=FONT), yanchor="middle"))
for t, d in zip(date_t, date_labels):
    annos.append(dict(x=t, y=1 - 626 / H, xref="x", yref="paper", text=d, showarrow=False,
                      font=dict(size=13, family=FONT), yanchor="middle"))
for t, c, u in zip(mini_lab_t, mini_cet, mini_utc):
    annos.append(dict(x=t, y=1 - 47 / H, xref="x14", yref="paper", text=c, showarrow=False,
                      font=dict(size=13, family=FONT), yanchor="middle"))
    annos.append(dict(x=t, y=1 - 608 / H, xref="x14", yref="paper", text=u, showarrow=False,
                      font=dict(size=13, family=FONT), yanchor="middle"))
txt("CET", 319, 50, size=13, anchor="center")
txt("CET", 873, 50, size=13, anchor="center")
txt("UTC", 319, 612, size=13, anchor="center")
txt("UTC", 873, 612, size=13, anchor="center")

txt("wschód słońca: 07:52 CET", 361, 8, NAVY, 12, "center")
txt("zachód słońca: 15:18 CET", 364, 21, NAVY, 12, "center")
txt("21°13'E, 53°49'N", 596, 8, NAVY, 12, "center")
txt("(x=253,  y=360)", 596, 21, NAVY, 12, "center")
txt("wysokość (min, środek, max)", 820, 8, NAVY, 12, "center")
txt("154 - 172 - 185 m", 820, 21, NAVY, 12, "center")
txt("meteo@icm.edu.pl", 363, 648, NAVY, 12, "center")
txt("© 2007-2024 ICM, Uniwersytet Warszawski", 751, 648, NAVY, 12, "center")

# axis titles (two rotated lines each side)
titles = [
    ("temperatura", "(°C)", "(°C)", "temperatura", 96, 96, 13),
    ("opad", "(mm/h, kg/m³/h)", "(%)", "wilgotność wzgl.", 183, 183, 13),
    ("ciśnienie", "(hPa)", "(mm Hg)", "ciśnienie", 270, 270, 13),
    ("wiatr", "(m/s)", "(km/h)", "wiatr", 356, 356, 13),
    ("pion. rozciągł. chm.", "(km)", "(km)", "widzialność", 468, 476, 12),
    ("zachmurzenie", "(oktanty)", "(frakcja)", "mgła", 565, 565, 13),
]
for l1, l2, r1, r2, yl, yr, fs in titles:
    txt(l1, 291, yl, NAVY, fs, "center", angle=-90)
    txt(l2, 306, yr, NAVY, 13, "center", angle=-90)
    txt(r1, 891, yr, NAVY, 13, "center", angle=-90)
    txt(r2, 903, yr, NAVY, 13, "center", angle=-90)
for xc in (0, 597):
    txt("W", 288 + xc, 415, NAVY, 13, "center")
    txt("N", 298 + xc, 403, NAVY, 12, "center")
    txt("E", 304 + xc, 413, NAVY, 12, "center")
    txt("S", 297 + xc, 424, NAVY, 12, "center")

# ================= LEGEND LABELS =================
DRED = "#c00000"
GREEN = "#00a000"
SNOW = "#2020d0"
leg = [
    ("Czas lokalny", 5, 13, "black", None), ("(CET/CEST)", 5, 27, "black", None),
    ("Temperatura gruntu", 5, 43, DRED, None), ("max/min", 28, 56, DRED, None),
    ("Temperatura:", 5, 66, "black", None), ("punkt środkowy", 12, 77, "#ff0000", None),
    ("max/min", 28, 88, "#f4c8c4", None), ("odczuwana", 10, 99, "#0000ee", None),
    ("max/min", 28, 109, "#a4d6f6", None), ("Temp. punktu rosy", 5, 120, "#6a5acd", None),
    ("Opad powyżej skali", 5, 138, "#ff0000", None), ("Wilgotność względna", 5, 151, RH_COL, None),
    ("Wystąpienie burzy", 5, 166, "black", None), ("Deszcz: max", 5, 180, GREEN, None),
    ("średni", 48, 191, GREEN, None), ("Śnieg:", 5, 202, SNOW, None), ("max", 48, 202, SNOW, None),
    ("średni", 48, 212, SNOW, None), ("Wystąpienie opadu", 5, 225, "#ff0000", None),
    ("konwekcyjnego", 5, 238, "#ff0000", None),
    ("Ciśnienie", 5, 263, "black", None), ("zredukowane", 5, 277, "black", None),
    ("do poziomu morza", 5, 291, "black", None),
    ("Wiatr na 10m:", 5, 320, "black", None), ("poryw powyżej skali", 10, 335, "#ff0000", None),
    ("max porywy wiatru", 10, 349, "#ff0000", None), ("prędkość wiatru", 10, 368, "#1010a0", None),
    ("w środku obszaru", 10, 381, "#1010a0", None), ("kierunek wiatru", 10, 410, "#1010a0", None),
    ("Wierzchołek chmur", 5, 428, "#b02020", None), ("Podstawa chmur*", 5, 443, "black", None),
    ("o pokryciu", 5, 455, "black", None), ("> 7.9 okt.", 10, 467, "black", None),
    ("> 6.5 okt.", 10, 478, "#555555", None), ("> 4.5 okt.", 10, 489, "#999999", None),
    ("> 2.5 okt.", 10, 500, "#cccccc", None), ("> 0.1 okt.", 10, 511, "white", "#88ccf4"),
    ("Widzialność", 5, 524, ORANGE, None), ("Chmury:", 5, 543, "black", None),
    ("wysokie", 10, 556, "white", "#88ccf4"), ("średnie", 10, 568, "#999999", None),
    ("niskie", 10, 580, "black", None), ("bardzo niskie", 10, 592, "black", None),
    ("Mgła", 5, 604, "#ffb400", None),
]
for text, x, y, col, bg in leg:
    txt(text, x, y, col, 11, "left", bg=bg)
txt("Czas uniwersalny (UTC)", 5, 622, "black", 12)
txt("<b>* powyżej poziomu morza</b>", 5, 648, "black", 9)

leaders = [
    ([(66, 14), (133, 14), (157, 40)], "black"),
    ([(98, 43), (118, 43), (148, 86)], DRED),
    ([(90, 77), (115, 77)], "#ff0000"), ([(131, 77), (157, 101)], "#ff0000"),
    ([(66, 99), (137, 99)], "#0000ee"),
    ([(94, 120), (136, 114)], "#6a5acd"),
    ([(100, 138), (146, 138), (146, 146)], "#ff0000"),
    ([(110, 151), (118, 151)], RH_COL), ([(131, 152), (143, 163)], RH_COL),
    ([(90, 166), (113, 166)], "black"), ([(131, 167), (137, 171)], "black"),
    ([(68, 180), (140, 180)], GREEN), ([(78, 191), (143, 191)], GREEN),
    ([(70, 202), (113, 202)], SNOW), ([(130, 202), (160, 172)], SNOW),
    ([(80, 212), (128, 212), (163, 180)], SNOW),
    ([(98, 225), (150, 225), (150, 220)], "#ff0000"),
    ([(50, 263), (135, 263)], "black"),
    ([(112, 335), (120, 335)], "#ff0000"), ([(131, 333), (138, 317)], "#ff0000"),
    ([(104, 349), (136, 349), (146, 343)], "#ff0000"),
    ([(90, 368), (135, 368)], "#1010a0"),
    ([(84, 410), (135, 410)], "#1010a0"),
    ([(98, 428), (133, 428), (183, 447)], "#b02020"),
    ([(58, 467), (135, 467), (192, 455)], "black"),
    ([(58, 478), (143, 478), (143, 482)], "#555555"),
    ([(58, 489), (133, 489), (137, 497)], "#999999"),
    ([(58, 500), (135, 500)], "#cccccc"),
    ([(58, 511), (135, 511)], "#88ccf4"),
    ([(66, 524), (128, 524), (173, 463)], ORANGE),
    ([(54, 556), (185, 556)], "#88ccf4"),
    ([(52, 568), (192, 568)], "#999999"),
    ([(42, 580), (123, 580)], "black"),
    ([(74, 592), (140, 592), (147, 595)], "black"),
    ([(30, 604), (218, 604), (218, 598)], "#ffb400"),
    ([(138, 622), (150, 622), (158, 609)], "black"),
]
for pts, col in leaders:
    leader(pts, col)

lay["shapes"] = shapes
lay["annotations"] = annos
fig.update_layout(**lay)
fig.write_html("out.html", include_plotlyjs=True,
               config={"displayModeBar": False, "staticPlot": True},
               post_script="document.body.style.margin='0px';document.body.style.padding='0px';"
                           "document.body.style.overflow='hidden';")
